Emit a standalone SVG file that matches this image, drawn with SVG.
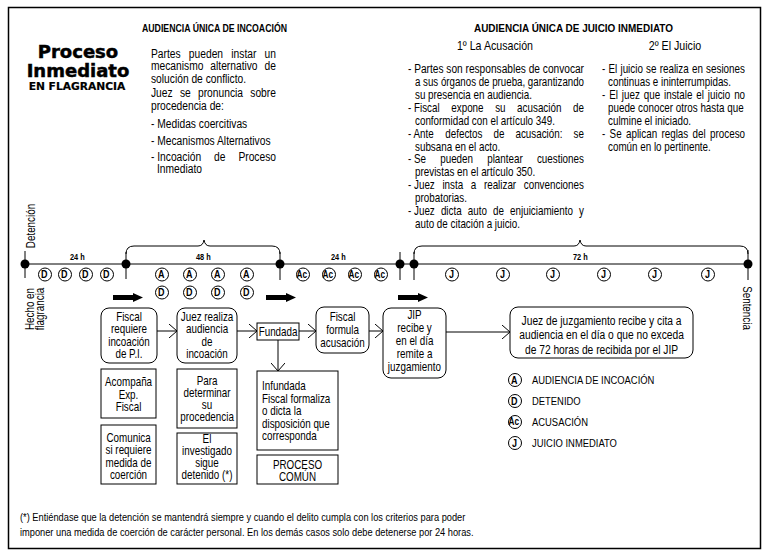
<svg xmlns="http://www.w3.org/2000/svg" width="770" height="555" viewBox="0 0 770 555">
<style>
text{font-family:"Liberation Sans",Arial,sans-serif;font-size:12px;fill:#000}
.s{transform-box:fill-box;transform-origin:0 50%;transform:scaleX(.82)}
.s.c{transform-origin:50% 50%}
.s.e{transform-origin:100% 50%}
.c{text-anchor:middle}
.e{text-anchor:end}
.b{font-weight:bold}
.L{font-size:12.5px}
.hd{font-size:11px;font-weight:bold}
.h13{font-size:13px}
.tt{font-family:"DejaVu Sans",sans-serif;font-weight:bold;text-anchor:middle;stroke:#000;stroke-width:.5;font-size:18px}
.tt2{font-size:10.7px;stroke-width:.2}
.box{fill:#fff;stroke:#000;stroke-width:1}
.ln{fill:none;stroke:#000;stroke-width:1}
.cl{fill:#fff;stroke:#000;stroke-width:1}
.ct{font-weight:bold;font-size:11px;text-anchor:middle}
.ac{font-size:10px}
.hl{font-weight:bold;font-size:9px;text-anchor:middle}
.ft{font-size:11.3px}
.lg{font-size:11.5px}
</style>
<defs>
<marker id="ah" viewBox="0 0 8 14" refX="8" refY="7" markerWidth="8" markerHeight="14" markerUnits="userSpaceOnUse" orient="auto">
<path d="M0,0 L8,7 L0,14" fill="none" stroke="#000" stroke-width="1"/>
</marker>
<path id="barrow" d="M0,-2.5 H20 V-4.5 L30,0 L20,4.5 V2.5 H0 Z" fill="#000"/>
</defs>
<rect x="8.5" y="7.5" width="752" height="541" fill="#fff" stroke="#000" stroke-width="1.5"/>

<g id="title">
<text class="tt" x="78" y="58">Proceso</text>
<text class="tt" x="78" y="77">Inmediato</text>
<text class="tt tt2" x="77" y="90">EN FLAGRANCIA</text>
</g>

<g id="incoacion-text">
<text class="hd" x="142" y="32" textLength="145" lengthAdjust="spacingAndGlyphs">AUDIENCIA ÚNICA DE INCOACIÓN</text>
<text class="s L" x="151" y="58" word-spacing="6.6">Partes pueden instar un</text>
<text class="s L" x="151" y="70.5" word-spacing="5">mecanismo alternativo de</text>
<text class="s L" x="151" y="83">solución de conflicto.</text>
<text class="s L" x="151" y="97" word-spacing="5.4">Juez se pronuncia sobre</text>
<text class="s L" x="151" y="110">procedencia de:</text>
<text class="s L" x="151" y="128">- Medidas coercitivas</text>
<text class="s L" x="151" y="145">- Mecanismos Alternativos</text>
<text class="s L" x="151" y="161">- Incoación</text><text class="s L" x="214" y="161">de</text><text class="s L e" x="276" y="161">Proceso</text>
<text class="s L" x="157" y="173.5">Inmediato</text>
</g>

<g id="juicio-text">
<text class="hd" x="474" y="32" textLength="199" lengthAdjust="spacingAndGlyphs">AUDIENCIA ÚNICA DE JUICIO INMEDIATO</text>
<text class="s c h13" x="495" y="50">1º La Acusación</text>
<text class="s c h13" x="675" y="50">2º El Juicio</text>
<text x="408" y="73" textLength="176" lengthAdjust="spacingAndGlyphs">- Partes son responsables de convocar</text>
<text x="415" y="86" textLength="169" lengthAdjust="spacingAndGlyphs">a sus órganos de prueba, garantizando</text>
<text class="s" x="415" y="99">su presencia en audiencia.</text>
<text class="s" x="408" y="112">- Fiscal</text><text class="s" x="451.3" y="112" word-spacing="10.8">expone su acusación de</text>
<text class="s" x="415" y="125">conformidad con el artículo 349.</text>
<text class="s" x="408" y="138">- Ante</text><text class="s" x="445.3" y="138" word-spacing="10.1">defectos de acusación: se</text>
<text class="s" x="415" y="151">subsana en el acto.</text>
<text class="s" x="408" y="163.5">- Se</text><text class="s" x="440.2" y="163.5" word-spacing="13.95">pueden plantear cuestiones</text>
<text class="s" x="415" y="176.5">previstas en el artículo 350.</text>
<text class="s" x="408" y="189">- Juez</text><text class="s" x="442.4" y="189" word-spacing="5.96">insta a realizar convenciones</text>
<text class="s" x="415" y="202">probatorias.</text>
<text class="s" x="408" y="215">- Juez</text><text class="s" x="440.9" y="215" word-spacing="4.11">dicta auto de enjuiciamiento y</text>
<text class="s" x="415" y="228">auto de citación a juicio.</text>
<text class="s" x="602" y="73" word-spacing=".6">- El juicio se realiza en sesiones</text>
<text class="s" x="608" y="86">continuas e ininterrumpidas.</text>
<text class="s" x="602" y="99" word-spacing="1.4">- El juez que instale el juicio no</text>
<text class="s" x="608" y="112">puede conocer otros hasta que</text>
<text class="s" x="608" y="125">culmine el iniciado.</text>
<text class="s" x="602" y="138" word-spacing="1.95">- Se aplican reglas del proceso</text>
<text class="s" x="608" y="151">común en lo pertinente.</text>
</g>

<g id="timeline">
<line class="ln" x1="25" y1="264" x2="748" y2="264"/>
<line class="ln" x1="25" y1="251" x2="25" y2="278"/>
<line class="ln" x1="126" y1="252" x2="126" y2="279"/>
<line class="ln" x1="280" y1="252" x2="280" y2="280"/>
<line class="ln" x1="400" y1="252" x2="400" y2="280"/>
<line class="ln" x1="414" y1="252" x2="414" y2="280"/>
<line class="ln" x1="748" y1="250" x2="748" y2="280"/>
<path class="ln" d="M126,254 Q126,246 134,246 H198 Q203,246 204,240 Q205,246 210,246 H272 Q280,246 280,254"/>
<path class="ln" d="M414,254 Q414,246 422,246 H574 Q579,246 580,240 Q581,246 586,246 H740 Q748,246 748,254"/>
<g fill="#000">
<circle cx="25" cy="264" r="4.5"/><circle cx="126" cy="264" r="4.5"/><circle cx="280" cy="264" r="4.5"/>
<circle cx="400" cy="264" r="4.5"/><circle cx="414" cy="264" r="4.5"/><circle cx="748" cy="264" r="4.5"/>
</g>
<text class="s hl" x="79" y="260">24 h</text>
<text class="s hl" x="205" y="260">48 h</text>
<text class="s hl" x="340" y="260">24 h</text>
<text class="s hl" x="582" y="260">72 h</text>
<text class="c" transform="translate(35,226) rotate(-90) scale(.82,1)">Detención</text>
<text class="c" transform="translate(34,309) rotate(-90) scale(.82,1)">Hecho en</text>
<text class="c" transform="translate(44,309) rotate(-90) scale(.82,1)">flagrancia</text>
<text class="c" transform="translate(743,308) rotate(90) scale(.82,1)">Sentencia</text>
</g>

<g id="markers">
<g class="cl"><circle cx="45" cy="274.5" r="6.5"/><circle cx="65" cy="274.5" r="6.5"/><circle cx="86" cy="274.5" r="6.5"/><circle cx="107" cy="274.5" r="6.5"/></g>
<text class="s ct" x="45" y="278.5">D</text><text class="s ct" x="65" y="278.5">D</text><text class="s ct" x="86" y="278.5">D</text><text class="s ct" x="107" y="278.5">D</text>
<g class="cl"><circle cx="162" cy="274.5" r="6.5"/><circle cx="190" cy="274.5" r="6.5"/><circle cx="218" cy="274.5" r="6.5"/><circle cx="247" cy="274.5" r="6.5"/>
<circle cx="162" cy="292.5" r="6.5"/><circle cx="190" cy="292.5" r="6.5"/><circle cx="218" cy="292.5" r="6.5"/><circle cx="247" cy="292.5" r="6.5"/></g>
<text class="s ct" x="162" y="278.5">A</text><text class="s ct" x="190" y="278.5">A</text><text class="s ct" x="218" y="278.5">A</text><text class="s ct" x="247" y="278.5">A</text>
<text class="s ct" x="162" y="296.5">D</text><text class="s ct" x="190" y="296.5">D</text><text class="s ct" x="218" y="296.5">D</text><text class="s ct" x="247" y="296.5">D</text>
<g class="cl"><circle cx="303" cy="274.5" r="6.5"/><circle cx="329" cy="274.5" r="6.5"/><circle cx="355" cy="274.5" r="6.5"/><circle cx="381" cy="274.5" r="6.5"/></g>
<text class="s ct ac" x="303" y="278">Ac</text><text class="s ct ac" x="329" y="278">Ac</text><text class="s ct ac" x="355" y="278">Ac</text><text class="s ct ac" x="381" y="278">Ac</text>
<g class="cl"><circle cx="452" cy="274.5" r="6.5"/><circle cx="503" cy="274.5" r="6.5"/><circle cx="553" cy="274.5" r="6.5"/><circle cx="604" cy="274.5" r="6.5"/><circle cx="655" cy="274.5" r="6.5"/><circle cx="708" cy="274.5" r="6.5"/></g>
<text class="s ct" x="452" y="278.5">J</text><text class="s ct" x="503" y="278.5">J</text><text class="s ct" x="553" y="278.5">J</text><text class="s ct" x="604" y="278.5">J</text><text class="s ct" x="655" y="278.5">J</text><text class="s ct" x="708" y="278.5">J</text>
<use href="#barrow" x="113" y="297.5"/>
<use href="#barrow" x="266" y="297.5"/>
<use href="#barrow" x="398" y="297.5"/>
</g>

<g id="n-fiscal-requiere">
<rect class="box" x="101" y="308" width="56" height="55" rx="8"/>
<text class="s c" x="129" y="321">Fiscal</text><text class="s c" x="129" y="333.5">requiere</text><text class="s c" x="129" y="346">incoación</text><text class="s c" x="129" y="358.5">de P.I.</text>
</g>
<g id="n-juez-realiza">
<rect class="box" x="177" y="308" width="60" height="55" rx="8"/>
<text class="s c" x="207" y="321">Juez realiza</text><text class="s c" x="207" y="333.5">audiencia</text><text class="s c" x="207" y="346">de</text><text class="s c" x="207" y="358.5">incoación</text>
</g>
<g id="n-fundada">
<rect class="box" x="257" y="323" width="42" height="17"/>
<text class="s c" x="278" y="336">Fundada</text>
</g>
<g id="n-fiscal-formula">
<rect class="box" x="316" y="307" width="53" height="46" rx="8"/>
<text class="s c" x="342.5" y="321">Fiscal</text><text class="s c" x="342.5" y="334">formula</text><text class="s c" x="342.5" y="347">acusación</text>
</g>
<g id="n-jip">
<rect class="box" x="383" y="308" width="63" height="70" rx="8"/>
<text class="s c" x="414.5" y="319">JIP</text><text class="s c" x="414.5" y="332">recibe y</text><text class="s c" x="414.5" y="345">en el día</text><text class="s c" x="414.5" y="358">remite a</text><text class="s c" x="414.5" y="371">juzgamiento</text>
</g>
<g id="n-juez-juzgamiento">
<rect class="box" x="510" y="307" width="183" height="51" rx="8"/>
<text class="s c L" x="601.5" y="325">Juez de juzgamiento recibe y cita a</text>
<text class="s c L" x="601.5" y="339.5">audiencia en el día o que no exceda</text>
<text class="s c L" x="601.5" y="354">de 72 horas de recibida por el JIP</text>
</g>
<g id="n-acompana">
<rect class="box" x="101" y="369" width="55" height="49"/>
<text class="s c" x="128.5" y="386">Acompaña</text><text class="s c" x="128.5" y="399">Exp.</text><text class="s c" x="128.5" y="411.5">Fiscal</text>
</g>
<g id="n-comunica">
<rect class="box" x="101" y="425" width="55" height="59"/>
<text class="s c" x="128.5" y="442">Comunica</text><text class="s c" x="128.5" y="454.5">si requiere</text><text class="s c" x="128.5" y="467">medida de</text><text class="s c" x="128.5" y="479.5">coerción</text>
</g>
<g id="n-para">
<rect class="box" x="177" y="369" width="60" height="59"/>
<text class="s c" x="207" y="385">Para</text><text class="s c" x="207" y="397">determinar</text><text class="s c" x="207" y="409.5">su</text><text class="s c" x="207" y="421.5">procedencia</text>
</g>
<g id="n-investigado">
<rect class="box" x="177" y="433" width="60" height="51"/>
<text class="s c" x="207" y="443">El</text><text class="s c" x="207" y="455">investigado</text><text class="s c" x="207" y="467.5">sigue</text><text class="s c" x="207" y="479.5">detenido (*)</text>
</g>
<g id="n-infundada">
<rect class="box" x="257" y="371" width="81" height="79"/>
<text class="s" x="262" y="390">Infundada</text><text class="s" x="262" y="403">Fiscal formaliza</text><text class="s" x="262" y="415.5">o dicta la</text><text class="s" x="262" y="428">disposición que</text><text class="s" x="262" y="440.5">corresponda</text>
</g>
<g id="n-proceso-comun">
<rect class="box" x="257" y="455" width="81" height="29"/>
<text class="s c" x="297.5" y="469">PROCESO</text><text class="s c" x="297.5" y="481.5">COMÚN</text>
</g>

<g id="connectors">
<line class="ln" x1="157" y1="331" x2="177" y2="331" marker-end="url(#ah)"/>
<line class="ln" x1="237" y1="331" x2="257" y2="331" marker-end="url(#ah)"/>
<line class="ln" x1="299" y1="331" x2="316" y2="331" marker-end="url(#ah)"/>
<line class="ln" x1="369" y1="331" x2="383" y2="331" marker-end="url(#ah)"/>
<line class="ln" x1="446" y1="332" x2="510" y2="332" marker-end="url(#ah)"/>
<line class="ln" x1="278" y1="340" x2="278" y2="371" marker-end="url(#ah)"/>
</g>

<g id="legend">
<g class="cl"><circle cx="515" cy="380" r="6.5"/><circle cx="515" cy="401" r="6.5"/><circle cx="515" cy="422" r="6.5"/><circle cx="515" cy="443" r="6.5"/></g>
<text class="s ct" x="515" y="384">A</text><text class="s ct" x="515" y="405">D</text><text class="s ct ac" x="515" y="425.5">Ac</text><text class="s ct" x="515" y="447">J</text>
<text class="s lg" x="532" y="384.5">AUDIENCIA DE INCOACIÓN</text>
<text class="s lg" x="532" y="405.5">DETENIDO</text>
<text class="s lg" x="532" y="426.5">ACUSACIÓN</text>
<text class="s lg" x="532" y="447.5">JUICIO INMEDIATO</text>
</g>

<g id="footnote">
<text class="s ft" x="20" y="521">(*) Entiéndase que la detención se mantendrá siempre y cuando el delito cumpla con los criterios para poder</text>
<text class="s ft" x="20" y="536">imponer una medida de coerción de carácter personal. En los demás casos solo debe detenerse por 24 horas.</text>
</g>
</svg>
